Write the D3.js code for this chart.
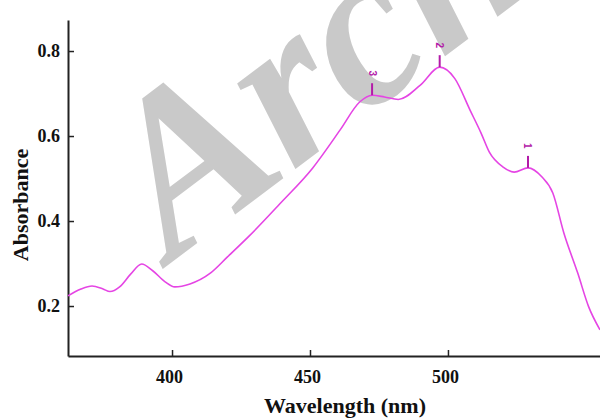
<!DOCTYPE html>
<html><head><meta charset="utf-8">
<script src="https://cdn.jsdelivr.net/npm/d3@7"></script>
<style>
html,body{margin:0;padding:0;background:#fff;}
svg{display:block;}
</style></head>
<body>
<svg id="chart" width="600" height="419"></svg>
<script>
// Data
const wavelength = [362.3,367,371,375,377.5,381,385,389,393,397.5,401,406.5,414,420,428,439,451,461,468,472.5,477,482,490,497,502.5,508,512,515,520,524,529,534,538,542,547,551,555.1];
const absorbance = [0.224,0.240,0.247,0.240,0.234,0.245,0.275,0.299,0.283,0.257,0.245,0.252,0.278,0.315,0.365,0.440,0.525,0.615,0.680,0.696,0.692,0.686,0.720,0.762,0.735,0.661,0.607,0.562,0.527,0.515,0.525,0.504,0.466,0.372,0.278,0.198,0.144];
const peakLabels = ["3","2","1"];
const peakWavelength = [472.5,497,529];
const peakAbsorbance = [0.696,0.762,0.525];
const xTicks = [400,450,500];
const yTicks = [0.2,0.4,0.6,0.8];

const svg = d3.select("#chart");
const mLeft = 68, mRight = 600, mTop = 20, mBottom = 356;
const x = d3.scaleLinear().domain([362.3,555.1]).range([mLeft,mRight]);
const y = d3.scaleLinear().domain([0.0824,0.873]).range([mBottom,mTop]);

// watermark
svg.append("text")
  .attr("transform","translate(172,262) rotate(-37)")
  .attr("font-family","Liberation Serif, serif")
  .attr("font-weight","bold").attr("font-style","italic")
  .attr("font-size",225).attr("fill","#c9c9c9")
  .text("Archive");

// axes
const font = "Liberation Serif, Times New Roman, serif";
const xAxis = svg.append("g").attr("transform",`translate(0,${mBottom})`)
  .call(d3.axisBottom(x).tickValues(xTicks).tickSize(-6).tickPadding(14).tickSizeOuter(0));
const yAxis = svg.append("g").attr("transform",`translate(${mLeft},0)`)
  .call(d3.axisLeft(y).tickValues(yTicks).tickSize(-6).tickPadding(8).tickFormat(d3.format(".1f")).tickSizeOuter(0));
[xAxis,yAxis].forEach(g=>{
  g.select(".domain").attr("stroke","#222").attr("stroke-width",2);
  g.selectAll(".tick line").attr("stroke","#222").attr("stroke-width",1.5);
  g.selectAll(".tick text").attr("font-family",font).attr("font-weight","bold")
   .attr("font-size",18).attr("fill","#111");
});
xAxis.selectAll(".tick text").attr("dx",-3);

// titles
svg.append("text").attr("x",345).attr("y",413).attr("text-anchor","middle")
  .attr("font-family",font).attr("font-weight","bold").attr("font-size",22).attr("fill","#111")
  .text("Wavelength (nm)");
svg.append("text").attr("transform","translate(28,205) rotate(-90)").attr("text-anchor","middle")
  .attr("font-family",font).attr("font-weight","bold").attr("font-size",22).attr("fill","#111")
  .text("Absorbance");

// curve
const pts = wavelength.map((w,i)=>[w,absorbance[i]]);
const line = d3.line().x(d=>x(d[0])).y(d=>y(d[1])).curve(d3.curveMonotoneX);
svg.append("path").datum(pts).attr("d",line)
  .attr("fill","none").attr("stroke","#e545e4").attr("stroke-width",1.6);

// peak markers
peakLabels.forEach((lab,i)=>{
  const px = x(peakWavelength[i]), py = y(peakAbsorbance[i]);
  svg.append("line").attr("x1",px).attr("x2",px).attr("y1",py).attr("y2",py-12)
    .attr("stroke","#b31aa8").attr("stroke-width",2);
  svg.append("text").attr("transform",`translate(${px},${py-22}) rotate(90)`)
    .attr("text-anchor","middle").attr("dy","0.35em")
    .attr("font-family","Liberation Sans, Arial, sans-serif").attr("font-weight","bold")
    .attr("font-size",10).attr("fill","#b31aa8").text(lab);
});
</script>
</body></html>
